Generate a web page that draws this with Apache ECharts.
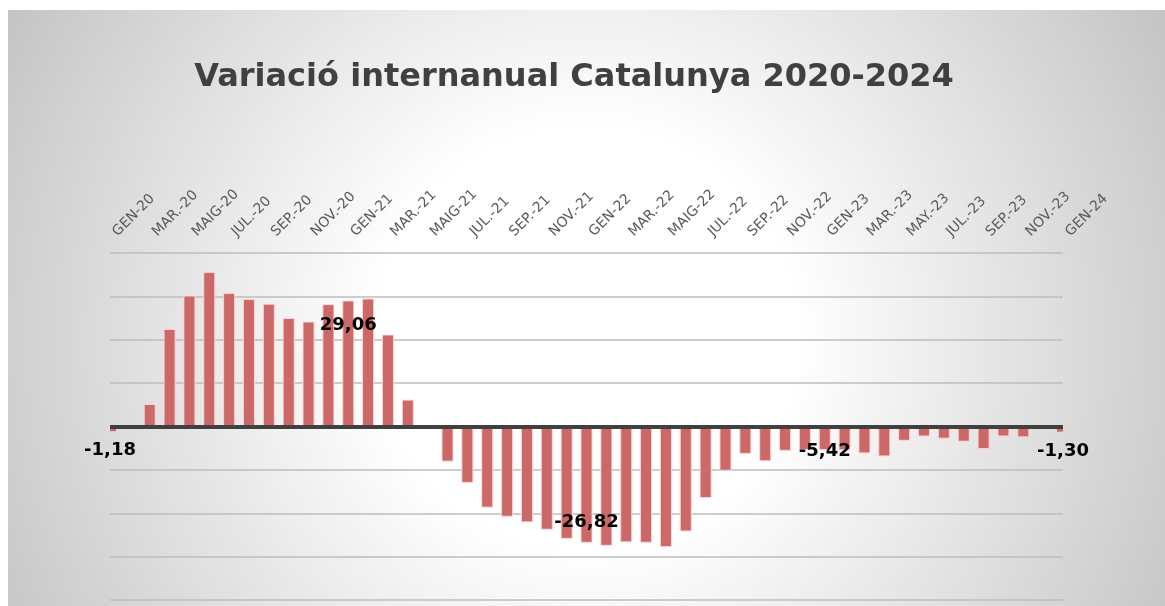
<!DOCTYPE html>
<html>
<head>
<meta charset="utf-8">
<script src="https://cdn.jsdelivr.net/npm/echarts@6/dist/echarts.min.js"></script>
<style>
  html, body { margin: 0; padding: 0; background: #fff; }
  #chart { width: 1165px; height: 606px; }
</style>
</head>
<body>
<div id="chart"></div>
<script>
// mesos (etiquetes de l'eix, una de cada dues es mostra)
const months = [
  'GEN-20', 'FEB.-20', 'MAR.-20', 'ABR.-20', 'MAIG-20', 'JUNY-20', 'JUL.-20', 'AG.-20', 'SEP.-20', 'OCT.-20', 'NOV.-20', 'DES.-20',
  'GEN-21', 'FEB.-21', 'MAR.-21', 'ABR.-21', 'MAIG-21', 'JUNY-21', 'JUL.-21', 'AG.-21', 'SEP.-21', 'OCT.-21', 'NOV.-21', 'DES.-21',
  'GEN-22', 'FEB.-22', 'MAR.-22', 'ABR.-22', 'MAIG-22', 'JUNY-22', 'JUL.-22', 'AG.-22', 'SEP.-22', 'OCT.-22', 'NOV.-22', 'DES.-22',
  'GEN-23', 'FEB.-23', 'MAR.-23', 'ABR.-23', 'MAY.-23', 'JUN.-23', 'JUL.-23', 'AG.-23', 'SEP.-23', 'OCT.-23', 'NOV.-23', 'DES.-23',
  'GEN-24'
]
// variacio interanual (%)
const values2020 = [-1.18, 0.2, 5.2, 22.5, 30.2, 35.6, 30.8, 29.4, 28.3, 25.0, 24.2, 28.2]
const values2021 = [29.06, 29.5, 21.2, 6.2, 0.2, -8.1, -13.0, -18.7, -20.8, -22.1, -23.8, -25.9]
const values2022 = [-26.82, -27.5, -26.7, -26.8, -27.8, -24.2, -16.5, -10.2, -6.3, -8.0, -5.6, -5.4]
const values2023 = [-5.42, -5.5, -6.2, -6.9, -3.3, -2.3, -2.8, -3.5, -5.2, -2.3, -2.5, -0.8]
const values2024 = [-1.30]
const values = [].concat(values2020, values2021, values2022, values2023, values2024)
// punts amb etiqueta de dades (gener de cada any)
const labelledIdx = [0, 12, 24, 36, 48]

const barColor = '#cc6868'
const barBorder = 'rgba(255,215,215,0.9)'
const firstIdx = 0
const lastIdx = values.length - 1

const labelFont = {
  show: true,
  color: '#000',
  fontWeight: 'bold',
  fontSize: 18,
  fontFamily: 'DejaVu Sans',
  formatter: p => p.value.toFixed(2).replace('.', ',')
}
// posicio de cada etiqueta
const labelPlace = {
  0: { position: 'bottom', distance: 10 },
  12: { position: 'insideTop', distance: 16 },
  24: { position: 'insideBottom', distance: 12 },
  36: { position: 'bottom', distance: -8 },
  48: { position: 'bottom', distance: 10 }
}

// la primera i l'ultima barra queden tallades per la vora (mitja barra)
const barData = values.map((v, i) => {
  const item = { value: v }
  if (labelledIdx.indexOf(i) >= 0) {
    item.label = Object.assign({}, labelFont, labelPlace[i])
  }
  if (i === firstIdx || i === lastIdx) {
    item.itemStyle = { color: 'rgba(0,0,0,0)', borderColor: 'rgba(0,0,0,0)' }
  }
  return item
})
const edgeData = values.map((v, i) => {
  if (i === firstIdx) return { value: v, symbolOffset: [3, 0] }
  if (i === lastIdx) return { value: v, symbolOffset: [-3, 0] }
  return '-'
})

const chart = echarts.init(document.getElementById('chart'))
chart.setOption({
  animation: false,
  textStyle: { fontFamily: 'DejaVu Sans' },
  graphic: [{
    type: 'rect',
    x: 8,
    y: 10,
    z: -10,
    silent: true,
    shape: { width: 1157, height: 596 },
    style: {
      fill: {
        type: 'radial', x: 0.5, y: 0.55, r: 1.17,
        colorStops: [
          { offset: 0, color: '#ffffff' },
          { offset: 0.3, color: '#ffffff' },
          { offset: 1, color: '#c0c0c0' }
        ]
      }
    }
  }],
  title: {
    text: 'Variació internanual Catalunya 2020-2024',
    left: 574,
    top: 62,
    padding: 0,
    textAlign: 'center',
    textStyle: {
      fontFamily: 'DejaVu Sans',
      fontWeight: 'bold',
      fontSize: 32,
      color: '#404040'
    }
  },
  grid: {
    left: 110,
    right: 102,
    top: 253,
    bottom: 6,
    containLabel: false,
    outerBoundsMode: 'none'
  },
  xAxis: {
    type: 'category',
    data: months,
    position: 'top',
    boundaryGap: false,
    axisLine: { show: false, onZero: false },
    axisTick: { show: false },
    splitLine: { show: false },
    axisLabel: {
      interval: 1,
      rotate: -45,
      align: 'left',
      verticalAlign: 'bottom',
      margin: 4,
      padding: [0, 0, 0, 14],
      color: '#595959',
      fontSize: 14,
      fontFamily: 'DejaVu Sans'
    }
  },
  yAxis: {
    type: 'value',
    min: -40,
    max: 40,
    interval: 10,
    axisLine: { show: false },
    axisTick: { show: false },
    axisLabel: { show: false },
    splitLine: { lineStyle: { color: '#bcbcbc', width: 1.5 } }
  },
  series: [{
    type: 'bar',
    data: barData,
    barWidth: 12,
    itemStyle: {
      color: barColor,
      borderColor: barBorder,
      borderWidth: 1
    },
    markLine: {
      silent: true,
      symbol: 'none',
      label: { show: false },
      lineStyle: { color: '#404040', width: 4, type: 'solid' },
      data: [{ yAxis: 0 }]
    }
  }, {
    type: 'pictorialBar',
    data: edgeData,
    symbol: 'rect',
    symbolSize: [6, '100%'],
    itemStyle: {
      color: barColor,
      borderColor: barBorder,
      borderWidth: 1
    }
  }]
})
</script>
</body>
</html>
